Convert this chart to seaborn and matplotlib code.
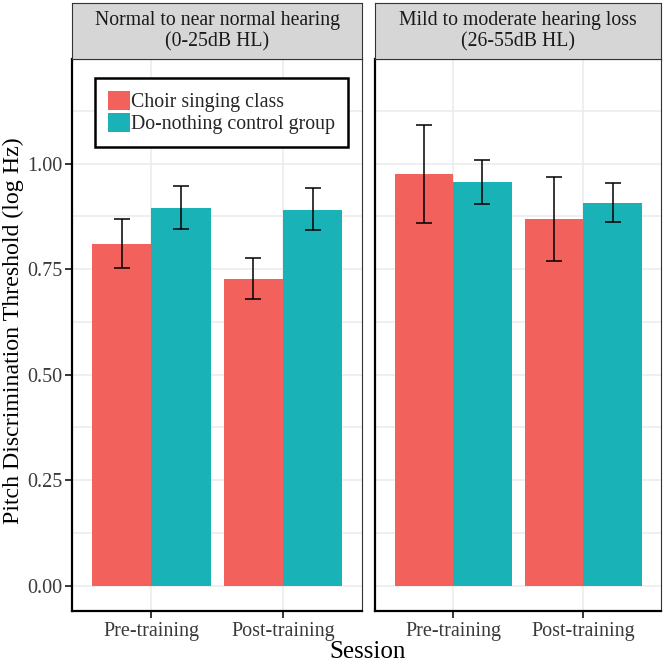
import matplotlib
matplotlib.use("Agg")
import matplotlib.pyplot as plt
from matplotlib.patches import Patch
from matplotlib.container import BarContainer
from matplotlib.ticker import MultipleLocator
import seaborn as sns
import pandas as pd

sessions = ["Pre-training", "Post-training"]
groups = ["Choir singing class", "Do-nothing control group"]
panels = ["Normal to near normal hearing\n(0-25dB HL)",
          "Mild to moderate hearing loss\n(26-55dB HL)"]

# Normal to near normal hearing
normal_choir_mean = [0.810, 0.727]
normal_choir_lo = [0.752, 0.679]
normal_choir_hi = [0.869, 0.776]
normal_ctrl_mean = [0.895, 0.891]
normal_ctrl_lo = [0.846, 0.842]
normal_ctrl_hi = [0.946, 0.941]

# Mild to moderate hearing loss
mild_choir_mean = [0.976, 0.868]
mild_choir_lo = [0.860, 0.769]
mild_choir_hi = [1.091, 0.967]
mild_ctrl_mean = [0.957, 0.907]
mild_ctrl_lo = [0.905, 0.861]
mild_ctrl_hi = [1.009, 0.953]

y_ticks = [0.00, 0.25, 0.50, 0.75, 1.00]
y_tick_labels = ["0.00", "0.25", "0.50", "0.75", "1.00"]

colors = ["#F2615C", "#19B3B7"]

panel_data = [
    (normal_choir_mean, normal_choir_lo, normal_choir_hi,
     normal_ctrl_mean, normal_ctrl_lo, normal_ctrl_hi),
    (mild_choir_mean, mild_choir_lo, mild_choir_hi,
     mild_ctrl_mean, mild_ctrl_lo, mild_ctrl_hi),
]

sns.set_theme(style="white")
plt.rcParams["font.family"] = ["Liberation Serif", "DejaVu Serif"]

fig = plt.figure(figsize=(6.65, 6.63), dpi=100)

ax_pos = [(0.109, 0.0784, 0.4354, 0.8322), (0.5639, 0.0784, 0.4308, 0.8322)]
strip_bottom = 0.9106
strip_h = 0.0845

tick_color = "#3A3A3A"
axes = []
for k, (pos, title, dat) in enumerate(zip(ax_pos, panels, panel_data)):
    ax = fig.add_axes(pos)
    axes.append(ax)
    cm, cl, ch, tm, tl, th = dat
    rows = []
    for i, s in enumerate(sessions):
        rows.append(dict(Session=s, Group=groups[0], value=cm[i], lo=cl[i], hi=ch[i]))
        rows.append(dict(Session=s, Group=groups[1], value=tm[i], lo=tl[i], hi=th[i]))
    df = pd.DataFrame(rows)
    ax.set_axisbelow(True)
    sns.barplot(data=df, x="Session", y="value", hue="Group", order=sessions,
                hue_order=groups, palette=colors, errorbar=None, width=0.9,
                saturation=1, ax=ax, legend=False, zorder=2, linewidth=0,
                edgecolor="none")
    bar_conts = [c for c in ax.containers if isinstance(c, BarContainer)]
    for gi, cont in enumerate(bar_conts):
        for si, patch in enumerate(cont.patches):
            xc = patch.get_x() + patch.get_width() / 2
            row = df[(df.Session == sessions[si]) & (df.Group == groups[gi])].iloc[0]
            ax.errorbar([xc], [row.value],
                        yerr=[[row.value - row.lo], [row.hi - row.value]],
                        fmt="none", ecolor="black", elinewidth=1.1,
                        capsize=5.6, capthick=1.1, zorder=3)
    ax.set_xlim(-0.6, 1.6)
    ax.set_ylim(-0.06, 1.247)
    ax.set_yticks(y_ticks)
    ax.yaxis.set_minor_locator(MultipleLocator(0.125))
    ax.grid(True, which="major", axis="both", color="#EBEBEB", linewidth=1.1, zorder=0)
    ax.grid(True, which="minor", axis="y", color="#EBEBEB", linewidth=1.1, zorder=0)
    ax.set_xlabel("")
    ax.set_ylabel("")
    for side in ["top", "right"]:
        ax.spines[side].set_color("#333333")
        ax.spines[side].set_linewidth(0.8)
    for side in ["left", "bottom"]:
        ax.spines[side].set_color("black")
        ax.spines[side].set_linewidth(1.6)
    ax.tick_params(axis="x", which="major", length=5, width=1.1, color="black",
                   labelsize=14.5, labelcolor=tick_color, bottom=True, pad=3)
    ax.tick_params(axis="y", which="major", length=5, width=1.1, color="black",
                   labelsize=14.5, labelcolor=tick_color, left=(k == 0), pad=2)
    ax.tick_params(axis="y", which="minor", length=0, left=False)
    if k == 0:
        ax.set_yticklabels(y_tick_labels)
    else:
        ax.set_yticklabels([])
    # strip
    sax = fig.add_axes((pos[0], strip_bottom, pos[2], strip_h))
    sax.set_facecolor("#D6D6D6")
    sax.set_xticks([])
    sax.set_yticks([])
    for sp in sax.spines.values():
        sp.set_color("#333333")
        sp.set_linewidth(0.8)
    sax.text(0.5, 0.5, title, ha="center", va="center", fontsize=14.2,
             color="#1A1A1A", linespacing=1.1, transform=sax.transAxes)

handles = [Patch(facecolor=c, edgecolor="none") for c in colors]
leg = axes[0].legend(handles, groups, loc="upper left",
                     bbox_to_anchor=(0.078, 0.9655), borderaxespad=0,
                     frameon=True, fancybox=False, fontsize=14.3,
                     handlelength=1.1, handleheight=1.05, handletextpad=0.05,
                     labelspacing=0.05, borderpad=0.65)
leg.get_frame().set_edgecolor("black")
leg.get_frame().set_linewidth(1.8)
leg.get_frame().set_facecolor("white")
leg.get_frame().set_alpha(1)

fig.text(0.552, 0.007, "Session", ha="center", va="baseline", fontsize=18, color="black")
fig.text(0.02, 0.5008, "Pitch Discrimination Threshold (log Hz)", ha="center",
         va="center", rotation=90, fontsize=17.2, color="black")

fig.savefig("out.png", dpi=100)
